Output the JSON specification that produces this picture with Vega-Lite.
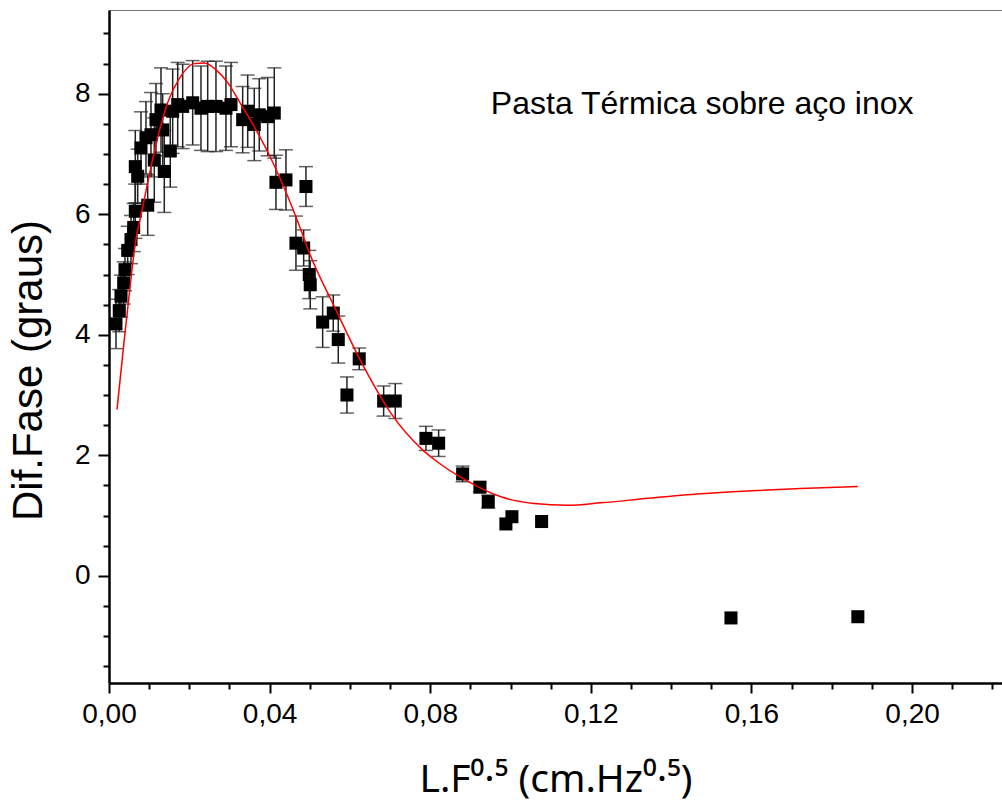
{
  "$schema": "https://vega.github.io/schema/vega-lite/v6.json",
  "width": 893,
  "height": 673,
  "autosize": {"type": "none"},
  "padding": {"left": 109, "top": 10, "right": 0, "bottom": 129},
  "background": "white",
  "view": {"stroke": "#777", "strokeWidth": 1},
  "config": {
    "font": "Liberation Sans",
    "axis": {
      "grid": false,
      "domainColor": "black",
      "domainWidth": 2.5,
      "tickColor": "black",
      "tickWidth": 2,
      "labelColor": "black",
      "titleColor": "black",
      "labelFont": "Liberation Sans",
      "titleFont": "Liberation Sans",
      "labelFontSize": 28,
      "titleFontSize": 42,
      "titleFontWeight": "normal",
      "labelOverlap": false,
      "labelFlush": false
    }
  },
  "datasets": {
    "pts": [
      {"x": 0.00174, "y": 4.18, "lo": 3.77, "hi": 4.59},
      {"x": 0.00256, "y": 4.40, "lo": 4.05, "hi": 4.75},
      {"x": 0.00299, "y": 4.64, "lo": 4.29, "hi": 4.99},
      {"x": 0.00366, "y": 4.86, "lo": 4.51, "hi": 5.21},
      {"x": 0.00398, "y": 5.08, "lo": 4.73, "hi": 5.43},
      {"x": 0.00466, "y": 5.40, "lo": 5.00, "hi": 5.80},
      {"x": 0.00548, "y": 5.58, "lo": 5.18, "hi": 5.98},
      {"x": 0.00615, "y": 5.78, "lo": 5.38, "hi": 6.18},
      {"x": 0.00655, "y": 6.05, "lo": 5.60, "hi": 6.50},
      {"x": 0.00964, "y": 6.15, "lo": 5.65, "hi": 6.65},
      {"x": 0.00715, "y": 6.63, "lo": 6.18, "hi": 7.08},
      {"x": 0.00655, "y": 6.79, "lo": 6.19, "hi": 7.39},
      {"x": 0.00797, "y": 7.10, "lo": 6.50, "hi": 7.70},
      {"x": 0.00921, "y": 7.27, "lo": 6.67, "hi": 7.87},
      {"x": 0.01046, "y": 7.32, "lo": 6.62, "hi": 8.02},
      {"x": 0.01128, "y": 6.90, "lo": 6.20, "hi": 7.60},
      {"x": 0.01377, "y": 6.71, "lo": 6.03, "hi": 7.39},
      {"x": 0.01526, "y": 7.05, "lo": 6.45, "hi": 7.65},
      {"x": 0.0117, "y": 7.57, "lo": 6.97, "hi": 8.17},
      {"x": 0.01337, "y": 7.40, "lo": 6.80, "hi": 8.00},
      {"x": 0.01295, "y": 7.73, "lo": 7.03, "hi": 8.43},
      {"x": 0.01586, "y": 7.71, "lo": 7.01, "hi": 8.41},
      {"x": 0.01711, "y": 7.82, "lo": 7.12, "hi": 8.52},
      {"x": 0.01835, "y": 7.79, "lo": 7.09, "hi": 8.49},
      {"x": 0.02084, "y": 7.85, "lo": 7.15, "hi": 8.55},
      {"x": 0.02291, "y": 7.76, "lo": 7.06, "hi": 8.46},
      {"x": 0.02458, "y": 7.79, "lo": 7.04, "hi": 8.54},
      {"x": 0.02664, "y": 7.79, "lo": 7.04, "hi": 8.54},
      {"x": 0.02913, "y": 7.76, "lo": 7.06, "hi": 8.46},
      {"x": 0.03038, "y": 7.82, "lo": 7.12, "hi": 8.52},
      {"x": 0.03329, "y": 7.57, "lo": 7.02, "hi": 8.12},
      {"x": 0.03454, "y": 7.71, "lo": 7.11, "hi": 8.31},
      {"x": 0.03618, "y": 7.49, "lo": 6.89, "hi": 8.09},
      {"x": 0.03742, "y": 7.65, "lo": 7.05, "hi": 8.25},
      {"x": 0.03952, "y": 7.62, "lo": 6.97, "hi": 8.27},
      {"x": 0.04116, "y": 7.68, "lo": 6.93, "hi": 8.43},
      {"x": 0.04158, "y": 6.53, "lo": 6.08, "hi": 6.98},
      {"x": 0.04407, "y": 6.57, "lo": 6.07, "hi": 7.07},
      {"x": 0.04656, "y": 5.52, "lo": 5.07, "hi": 5.97},
      {"x": 0.04848, "y": 5.44, "lo": 5.14, "hi": 5.74},
      {"x": 0.04905, "y": 6.46, "lo": 6.13, "hi": 6.79},
      {"x": 0.04988, "y": 5.00, "lo": 4.60, "hi": 5.40},
      {"x": 0.05012, "y": 4.83, "lo": 4.43, "hi": 5.23},
      {"x": 0.05321, "y": 4.21, "lo": 3.79, "hi": 4.63},
      {"x": 0.05585, "y": 4.36, "lo": 4.06, "hi": 4.66},
      {"x": 0.0571, "y": 3.92, "lo": 3.53, "hi": 4.31},
      {"x": 0.05926, "y": 3.00, "lo": 2.70, "hi": 3.30},
      {"x": 0.06232, "y": 3.60, "lo": 3.42, "hi": 3.78},
      {"x": 0.0684, "y": 2.90, "lo": 2.65, "hi": 3.15},
      {"x": 0.07129, "y": 2.90, "lo": 2.61, "hi": 3.19},
      {"x": 0.07893, "y": 2.28, "lo": 2.08, "hi": 2.48},
      {"x": 0.08209, "y": 2.20, "lo": 1.98, "hi": 2.42},
      {"x": 0.08807, "y": 1.69, "lo": 1.56, "hi": 1.82},
      {"x": 0.09238, "y": 1.47, "lo": 1.39, "hi": 1.55},
      {"x": 0.09445, "y": 1.23, "lo": 1.12, "hi": 1.34},
      {"x": 0.09885, "y": 0.86, "lo": null, "hi": null},
      {"x": 0.10035, "y": 0.98, "lo": null, "hi": null},
      {"x": 0.10774, "y": 0.90, "lo": null, "hi": null},
      {"x": 0.1549, "y": -0.70, "lo": null, "hi": null},
      {"x": 0.1865, "y": -0.68, "lo": null, "hi": null}
    ],
    "fit": [
      {"x": 0.0020, "y": 2.76},
      {"x": 0.0038, "y": 3.92},
      {"x": 0.0055, "y": 4.95},
      {"x": 0.0063, "y": 5.40},
      {"x": 0.0084, "y": 6.12},
      {"x": 0.0105, "y": 6.80},
      {"x": 0.0125, "y": 7.37},
      {"x": 0.0146, "y": 7.85},
      {"x": 0.0175, "y": 8.25},
      {"x": 0.0212, "y": 8.50},
      {"x": 0.0237, "y": 8.51},
      {"x": 0.0266, "y": 8.40},
      {"x": 0.0296, "y": 8.18},
      {"x": 0.0329, "y": 7.82},
      {"x": 0.0362, "y": 7.45},
      {"x": 0.0403, "y": 6.93},
      {"x": 0.0445, "y": 6.30},
      {"x": 0.0478, "y": 5.74},
      {"x": 0.0499, "y": 5.36},
      {"x": 0.0561, "y": 4.47},
      {"x": 0.0636, "y": 3.45},
      {"x": 0.0702, "y": 2.70},
      {"x": 0.0781, "y": 2.09},
      {"x": 0.0810, "y": 1.93},
      {"x": 0.0893, "y": 1.57},
      {"x": 0.0976, "y": 1.31},
      {"x": 0.1059, "y": 1.20},
      {"x": 0.1142, "y": 1.17},
      {"x": 0.1225, "y": 1.21},
      {"x": 0.1350, "y": 1.29},
      {"x": 0.1474, "y": 1.36},
      {"x": 0.1600, "y": 1.41},
      {"x": 0.1723, "y": 1.45},
      {"x": 0.1865, "y": 1.48}
    ],
    "note": [
      {"x": 0.0951, "y": 7.83, "label": "Pasta Térmica sobre aço inox"}
    ]
  },
  "encoding": {
    "x": {
      "field": "x",
      "type": "quantitative",
      "scale": {"domain": [0, 0.2224], "nice": false, "zero": false},
      "axis": {
        "title": "L.F⁰·⁵ (cm.Hz⁰·⁵)",
        "titleFont": "Noto Sans",
        "titleFontSize": 39,
        "values": [0, 0.01, 0.02, 0.03, 0.04, 0.05, 0.06, 0.07, 0.08, 0.09, 0.10, 0.11, 0.12, 0.13, 0.14, 0.15, 0.16, 0.17, 0.18, 0.19, 0.20, 0.21, 0.22],
        "labelExpr": "round(datum.value*100) % 4 == 0 ? replace(format(datum.value, '.2f'), '.', ',') : ''",
        "tickSize": {"condition": {"test": "round(datum.value*100) % 4 == 0", "value": 10}, "value": 6},
        "labelPadding": 7,
        "titlePadding": 32
      }
    },
    "y": {
      "field": "y",
      "type": "quantitative",
      "scale": {"domain": [-1.78, 9.39], "nice": false, "zero": false},
      "axis": {
        "title": "Dif.Fase (graus)",
        "values": [-1.5, -1, -0.5, 0, 0.5, 1, 1.5, 2, 2.5, 3, 3.5, 4, 4.5, 5, 5.5, 6, 6.5, 7, 7.5, 8, 8.5, 9],
        "labelExpr": "datum.value % 2 == 0 ? format(datum.value, 'd') : ''",
        "tickSize": {"condition": {"test": "datum.value % 2 == 0", "value": 11}, "value": 6},
        "labelPadding": 8,
        "titlePadding": 24,
        "titleY": 360
      }
    }
  },
  "layer": [
    {
      "data": {"name": "pts"},
      "transform": [{"filter": "datum.lo != null"}],
      "mark": {"type": "rule", "color": "#222", "strokeWidth": 1.5},
      "encoding": {"y": {"field": "lo", "type": "quantitative"}, "y2": {"field": "hi"}}
    },
    {
      "data": {"name": "pts"},
      "transform": [{"filter": "datum.lo != null"}],
      "mark": {"type": "tick", "orient": "horizontal", "color": "#222", "size": 14, "thickness": 1.5},
      "encoding": {"y": {"field": "lo", "type": "quantitative"}}
    },
    {
      "data": {"name": "pts"},
      "transform": [{"filter": "datum.lo != null"}],
      "mark": {"type": "tick", "orient": "horizontal", "color": "#222", "size": 14, "thickness": 1.5},
      "encoding": {"y": {"field": "hi", "type": "quantitative"}}
    },
    {
      "data": {"name": "pts"},
      "mark": {"type": "point", "shape": "square", "filled": true, "color": "black", "size": 170, "opacity": 1}
    },
    {
      "data": {"name": "fit"},
      "mark": {"type": "line", "color": "red", "strokeWidth": 1.5, "interpolate": "monotone"},
      "encoding": {"order": {"field": "x", "type": "quantitative"}}
    },
    {
      "data": {"name": "note"},
      "mark": {"type": "text", "align": "left", "baseline": "middle", "fontSize": 32, "font": "Liberation Sans", "color": "black"},
      "encoding": {"text": {"field": "label"}}
    }
  ]
}
